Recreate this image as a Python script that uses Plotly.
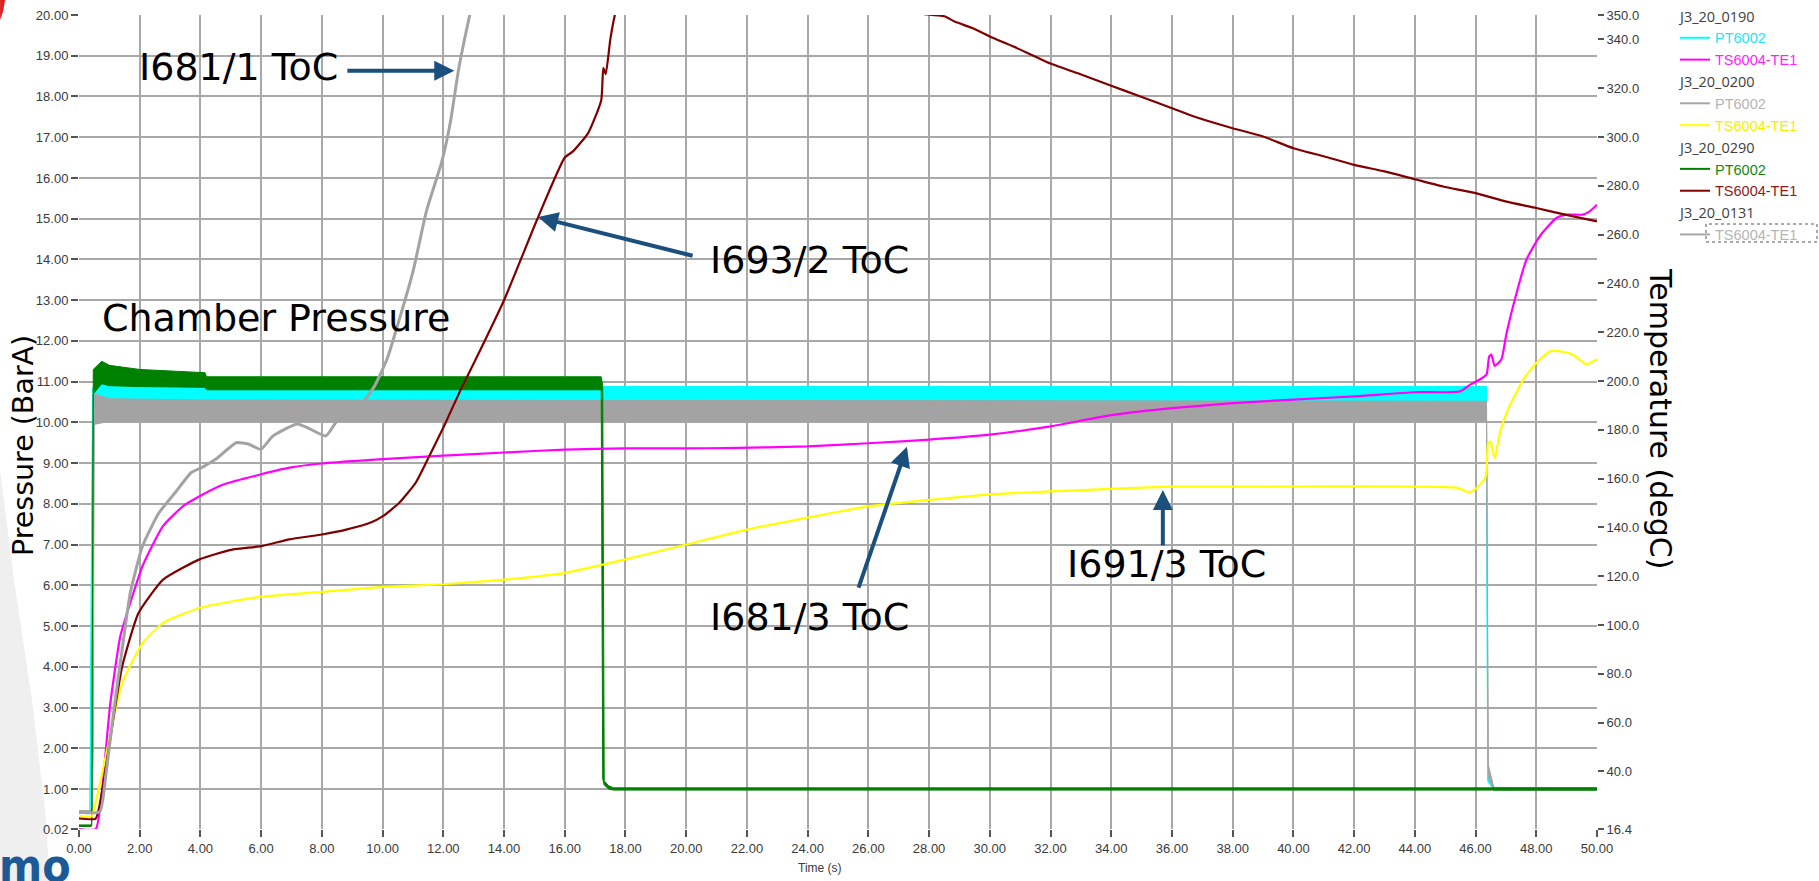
import plotly.graph_objects as go

# ---------------- axes / ticks ----------------
x_ticks = [i * 2 for i in range(26)]
p_ticks = [0.02] + list(range(1, 21))
t_ticks = [16.4] + list(range(40, 341, 20)) + [350]

# ---------------- pressure traces (BarA): time, lower / upper envelope of the noisy band ----------------
cyan_t = [0, 0.36, 0.40, 0.45, 0.55, 0.9, 1.0, 4.15, 4.2, 46.3, 46.36, 46.40, 46.6, 50]
cyan_lo = [0.40, 0.40, 3.0, 10.45, 10.5, 10.55, 10.55, 10.55, 10.5, 10.5, 10.5, 1.2, 0.97, 0.97]
cyan_hi = [0.44, 0.44, 6.0, 10.85, 10.95, 11.05, 10.95, 10.92, 10.88, 10.88, 10.88, 1.5, 1.04, 1.03]

gray_t = [0, 0.44, 0.47, 0.5, 1.0, 4.2, 46.3, 46.36, 46.42, 46.6, 50]
gray_lo = [0.42, 0.42, 2.0, 9.95, 10.03, 10.03, 10.03, 10.03, 1.3, 0.96, 0.96]
gray_hi = [0.47, 0.47, 6.0, 10.7, 10.58, 10.55, 10.52, 10.52, 1.6, 1.04, 1.03]

green_t = [0, 0.40, 0.42, 0.47, 0.75, 1.0, 2.0, 4.15, 4.2, 17.2, 17.25, 17.3, 17.45, 17.6, 50]
green_lo = [0.08, 0.08, 0.1, 10.7, 10.95, 10.9, 10.88, 10.86, 10.8, 10.8, 1.25, 1.1, 1.0, 0.975, 0.975]
green_hi = [0.12, 0.12, 0.2, 11.3, 11.5, 11.4, 11.3, 11.22, 11.12, 11.12, 10.9, 1.2, 1.08, 1.03, 1.03]

# ---------------- temperature traces (degC) ----------------
mag_t = [0, 0.55, 0.75, 1.02, 1.36, 1.69, 2.09, 2.77, 3.44, 4.0, 4.78, 6.0, 6.93, 8.0, 10, 12, 14, 16,
         18, 20, 21.3, 24, 26, 27.9, 30, 32, 34, 36, 38, 40, 42, 44, 45.48, 45.81, 46.14, 46.36, 46.45,
         46.52, 46.63, 46.85, 47.02, 47.35, 47.68, 48.11, 48.66, 48.99, 49.54, 49.76, 50]
mag_T = [16.4, 16.4, 31.1, 66.7, 95.4, 109.1, 124.1, 140.6, 148.8, 153.0, 157.7, 161.8, 164.5, 166.2,
         168.0, 169.4, 170.7, 171.9, 172.4, 172.4, 172.5, 173.2, 174.5, 175.9, 178.0, 181.4, 186.0,
         188.9, 190.9, 192.4, 193.7, 195.4, 195.7, 198.4, 200.6, 202.6, 210.1, 210.8, 206.2, 208.8,
         219.6, 236.1, 249.8, 259.3, 266.8, 268.2, 268.2, 269.5, 272.2]

yel_t = [0, 0.42, 0.62, 1.02, 1.42, 2.09, 2.77, 4.0, 6.0, 8.0, 10, 12, 14, 16, 18, 20, 22, 24, 26, 28,
         30, 32, 34, 36, 38, 41.5, 45.4, 45.8, 46.1, 46.34, 46.41, 46.49, 46.63, 46.8, 47.02, 47.57,
         48.0, 48.44, 48.83, 49.21, 49.65, 50]
yel_T = [21.7, 21.7, 31.1, 54.3, 76.2, 92.5, 100.9, 107.1, 111.6, 113.6, 115.6, 116.7, 118.6, 121.4,
         126.9, 133.0, 139.1, 144.0, 148.6, 151.3, 153.5, 154.8, 155.8, 156.7, 156.7, 156.8, 156.2,
         154.3, 156.8, 160.8, 174.5, 175.2, 168.3, 178.7, 186.9, 200.6, 207.4, 212.1, 212.1, 210.8,
         206.8, 208.9]

brn_t = [0, 0.55, 0.75, 1.02, 1.42, 1.96, 2.77, 3.97, 5.05, 6.0, 6.93, 8.0, 8.8, 9.61, 10.01, 10.55,
         11.09, 11.49, 12.03, 12.56, 13.1, 14.0, 15.1, 16.0, 16.27, 16.77, 17.2, 17.27, 17.35, 17.5,
         17.65, 18.0, 27.95, 28.5, 28.86, 29.46, 30, 30.8, 32, 33.03, 34, 34.96, 36, 36.75, 38, 38.98,
         40, 41, 42, 43, 44, 44.93, 46, 47.02, 48, 48.95, 50]
brn_T = [20.7, 20.7, 31.1, 52.8, 82.9, 104.9, 118.6, 126.9, 130.9, 132.3, 135.1, 137.1, 139.1, 142.0,
         144.6, 150.1, 158.3, 168.0, 181.7, 196.1, 209.7, 233.1, 266.5, 291.6, 294.1, 301.6, 315.0,
         328.3, 325.8, 340.0, 350.0, 366.0, 350.2, 349.5, 347.2, 344.5, 341.2, 337.0, 330.1, 325.5,
         321.0, 316.6, 311.8, 308.3, 303.6, 300.3, 295.4, 292.1, 288.6, 285.9, 282.7, 279.7, 277.0,
         273.5, 270.9, 268.2, 265.4]

gtc_t = [0, 0.68, 0.89, 1.15, 1.42, 1.69, 2.09, 2.63, 3.17, 3.7, 4.04, 4.51, 5.18, 5.58, 5.99, 6.39,
         7.19, 7.6, 8.13, 8.54, 9.34, 9.74, 10.15, 10.5, 11.0, 11.45, 11.95, 12.24, 12.5, 12.87, 13.2]
gtc_T = [23.4, 23.4, 39.1, 65.2, 89.9, 113.2, 132.3, 145.9, 154.3, 162.5, 164.5, 168.0, 174.7, 174.2,
         172.0, 177.5, 182.4, 180.4, 177.5, 184.4, 191.2, 198.1, 209.1, 223.1, 244.8, 269.9, 289.9,
         306.6, 327.5, 350.0, 368.0]

# ---------------- legend ----------------
groups = ["J3_20_0190", "J3_20_0190", "J3_20_0200", "J3_20_0200", "J3_20_0290", "J3_20_0290", "J3_20_0131"]
legend_names = ["PT6002", "TS6004-TE1", "PT6002", "TS6004-TE1", "PT6002", "TS6004-TE1", "TS6004-TE1"]
legend_colors = ["#00FFFF", "#FF00FF", "#A6A6A6", "#FFFF00", "#008000", "#800000", "#A6A6A6"]
legend_text_colors = ["#22E5F5", "#FF22FF", "#B5B5B5", "#F0F000", "#118811", "#8B1A1A", "#B5B5B5"]

# annotation texts
labels = ["I681/1 ToC", "Chamber Pressure", "I693/2 ToC", "I681/3 ToC", "I691/3 ToC"]
label_x = [1.91, 0.69, 20.72, 20.72, 32.48]
label_y = [18.72, 12.56, 13.99, 5.22, 6.52]
# arrows (tip / tail) in time & pressure-axis units
arrow_x = [12.36, 15.12, 27.27, 35.70]
arrow_y = [18.63, 15.04, 9.40, 8.34]
arrow_ax = [8.79, 20.26, 25.66, 35.70]
arrow_ay = [18.63, 14.08, 5.91, 6.94]

fig = go.Figure()

# legend entries
for g, n, c, tc in zip(groups, legend_names, legend_colors, legend_text_colors):
    fig.add_trace(go.Scatter(
        x=[None], y=[None], mode="lines", line=dict(color=c, width=2),
        name=f"<span style='color:{tc}'>{n}</span>",
        legendgroup=g, legendgrouptitle=dict(text=g, font=dict(size=14.5, color="#404040")),
        showlegend=True, hoverinfo="skip"))


def band(t, lo, hi, color):
    fig.add_trace(go.Scatter(x=t, y=lo, mode="lines", line=dict(color=color, width=1),
                             showlegend=False, hoverinfo="skip"))
    fig.add_trace(go.Scatter(x=t, y=hi, mode="lines", line=dict(color=color, width=1),
                             fill="tonexty", fillcolor=color, showlegend=False, hoverinfo="skip"))


band(cyan_t, cyan_lo, cyan_hi, "#00FFFF")
band(gray_t, gray_lo, gray_hi, "#A3A3A3")
band(green_t, green_lo, green_hi, "#008000")


def temp(t, T, color, w):
    fig.add_trace(go.Scatter(x=t, y=T, yaxis="y2", mode="lines",
                             line=dict(color=color, width=w, shape="spline", smoothing=0.5),
                             showlegend=False, hoverinfo="skip"))


temp(mag_t, mag_T, "#FF00FF", 2.2)
temp(yel_t, yel_T, "#FFFF00", 2.2)
temp(brn_t, brn_T, "#800000", 2.2)
temp(gtc_t, gtc_T, "#A3A3A3", 3)

tickfont = dict(family="Liberation Sans, Arial, sans-serif", size=13, color="#3A3A3A")

fig.update_layout(
    width=1819, height=881,
    margin=dict(l=79, r=222, t=15, b=52, autoexpand=False),
    paper_bgcolor="white", plot_bgcolor="white",
    showlegend=True,
    legend=dict(x=1675 / 1819, y=1.0, xref="container", yref="container",
                xanchor="left", yanchor="top", tracegroupgap=0, traceorder="grouped",
                font=dict(family="Liberation Sans, Arial, sans-serif", size=14.5),
                itemwidth=30, bgcolor="rgba(0,0,0,0)"),
    xaxis=dict(range=[0, 50], tickvals=x_ticks, ticktext=[f"{v:.2f}" for v in x_ticks],
               showgrid=True, gridcolor="#A8A8A8", gridwidth=1.6, zeroline=False, showline=False,
               ticks="outside", ticklen=7, tickcolor="#555555", tickwidth=1.5, tickfont=tickfont),
    yaxis=dict(range=[0.02, 20], tickvals=p_ticks, ticktext=[f"{v:.2f}" for v in p_ticks],
               showgrid=True, gridcolor="#A8A8A8", gridwidth=1.6, zeroline=False, showline=False,
               ticks="outside", ticklen=7, tickcolor="#555555", tickwidth=1.5, tickfont=tickfont),
    yaxis2=dict(range=[16.4, 350], overlaying="y", side="right", tickvals=t_ticks,
                ticktext=[f"{v:.1f}" for v in t_ticks], showgrid=False, zeroline=False,
                showline=False, ticks="outside", ticklen=6, tickcolor="#555555", tickwidth=1.5,
                tickfont=tickfont),
)

ann_font = dict(family="DejaVu Sans, Verdana, sans-serif", size=38, color="black")
for txt, x, y in zip(labels, label_x, label_y):
    fig.add_annotation(x=x, y=y, xref="x", yref="y", text=txt, showarrow=False,
                       xanchor="left", yanchor="middle", font=ann_font)

for x, y, ax, ay in zip(arrow_x, arrow_y, arrow_ax, arrow_ay):
    fig.add_annotation(x=x, y=y, ax=ax, ay=ay, xref="x", yref="y", axref="x", ayref="y",
                       text="", showarrow=True, arrowhead=2, arrowsize=1, arrowwidth=4,
                       arrowcolor="#1B4F7E", standoff=0, startstandoff=0)


def px(xp):
    return (xp - 79) / 1518


def py(yp):
    return (829 - yp) / 814


# axis titles
fig.add_annotation(x=px(23), y=py(446), xref="paper", yref="paper", text="Pressure (BarA)",
                   textangle=-90, showarrow=False, xanchor="center", yanchor="middle",
                   font=dict(family="DejaVu Sans, Verdana, sans-serif", size=28.5, color="black"))
fig.add_annotation(x=px(1661), y=py(419), xref="paper", yref="paper", text="Temperature (degC)",
                   textangle=90, showarrow=False, xanchor="center", yanchor="middle",
                   font=dict(family="DejaVu Sans, Verdana, sans-serif", size=30, color="black"))
fig.add_annotation(x=px(820), y=py(868), xref="paper", yref="paper",
                   text="Time (s)", showarrow=False, xanchor="center", yanchor="middle",
                   font=dict(family="Liberation Sans, Arial, sans-serif", size=12, color="#3A3A3A"))

# dotted focus box around the last legend entry
fig.add_shape(type="rect", xref="paper", yref="paper", x0=px(1706), x1=px(1817),
              y0=py(242), y1=py(224), line=dict(color="#555555", width=1, dash="dot"),
              fillcolor="rgba(0,0,0,0)")

# slide decoration: light wedge, red corner and logo at the left
wedge = [(0, 470), (14, 580), (32, 700), (45, 810), (50, 881), (0, 881)]
path = "M " + " L ".join(f"{px(a):.4f},{py(b):.4f}" for a, b in wedge) + " Z"
fig.add_shape(type="path", path=path, xref="paper", yref="paper", fillcolor="#EFEFEF",
              line=dict(width=0), layer="below")
corner = [(0, 0), (5, 0), (3, 12), (0, 20)]
path2 = "M " + " L ".join(f"{px(a):.4f},{py(b):.4f}" for a, b in corner) + " Z"
fig.add_shape(type="path", path=path2, xref="paper", yref="paper", fillcolor="#E02020",
              line=dict(width=0), layer="below")
fig.add_annotation(x=px(-3), y=py(866), xref="paper", yref="paper", text="<b>mo</b>",
                   showarrow=False, xanchor="left", yanchor="middle",
                   font=dict(family="DejaVu Sans Condensed, DejaVu Sans, sans-serif", size=46,
                             color="#1B5A97"))

# remove the default 8px page margin so the figure fills the window exactly
fig.write_html("out.html", config={"displayModeBar": False},
               post_script="document.body.style.margin='0';document.body.style.overflow='hidden';")
